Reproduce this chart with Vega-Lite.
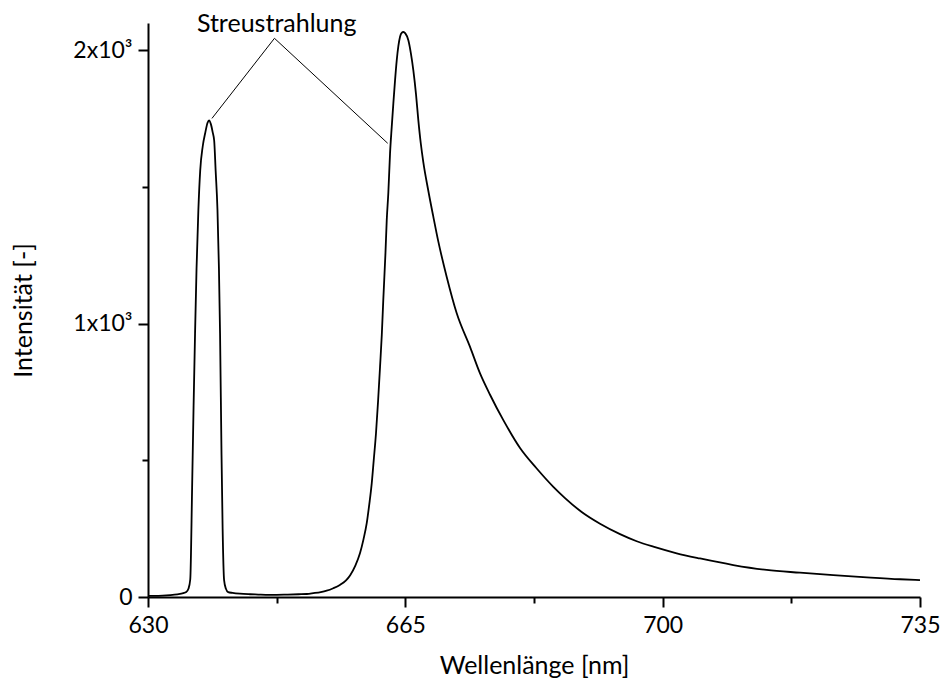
{
  "$schema": "https://vega.github.io/schema/vega-lite/v6.json",
  "width": 772,
  "height": 574,
  "autosize": {"type": "none"},
  "padding": {"left": 148, "top": 23, "right": 20, "bottom": 94},
  "background": "white",
  "config": {
    "view": {"stroke": null},
    "font": "Lato"
  },
  "datasets": {
    "spectrum": [
      {"wl": 630, "I": 4}, {"wl": 631, "I": 4}, {"wl": 632, "I": 5}, {"wl": 633, "I": 7},
      {"wl": 634, "I": 10}, {"wl": 634.8, "I": 14}, {"wl": 635.2, "I": 18}, {"wl": 635.5, "I": 30},
      {"wl": 635.75, "I": 65}, {"wl": 636.0, "I": 400}, {"wl": 636.2, "I": 700}, {"wl": 636.4, "I": 965},
      {"wl": 636.6, "I": 1200}, {"wl": 636.85, "I": 1415}, {"wl": 637.1, "I": 1560}, {"wl": 637.45, "I": 1650},
      {"wl": 637.8, "I": 1700}, {"wl": 638.1, "I": 1735}, {"wl": 638.3, "I": 1744}, {"wl": 638.55, "I": 1730},
      {"wl": 638.8, "I": 1700}, {"wl": 639.0, "I": 1670}, {"wl": 639.2, "I": 1560}, {"wl": 639.45, "I": 1415},
      {"wl": 639.65, "I": 1200}, {"wl": 639.8, "I": 965}, {"wl": 640.0, "I": 520}, {"wl": 640.15, "I": 250},
      {"wl": 640.35, "I": 62}, {"wl": 640.6, "I": 30}, {"wl": 640.9, "I": 18}, {"wl": 641.5, "I": 15},
      {"wl": 642.5, "I": 12}, {"wl": 643.9, "I": 10}, {"wl": 645, "I": 9}, {"wl": 646, "I": 8},
      {"wl": 647.5, "I": 8}, {"wl": 649, "I": 9}, {"wl": 650.5, "I": 10}, {"wl": 651.6, "I": 11},
      {"wl": 652.5, "I": 14}, {"wl": 653.5, "I": 18}, {"wl": 654.3, "I": 23}, {"wl": 655.2, "I": 32},
      {"wl": 656.1, "I": 44}, {"wl": 656.9, "I": 60}, {"wl": 657.5, "I": 80}, {"wl": 658.2, "I": 115},
      {"wl": 658.84, "I": 161}, {"wl": 659.3, "I": 210}, {"wl": 659.75, "I": 270}, {"wl": 660.1, "I": 340},
      {"wl": 660.43, "I": 416}, {"wl": 660.7, "I": 500}, {"wl": 661.01, "I": 599}, {"wl": 661.3, "I": 720},
      {"wl": 661.56, "I": 842}, {"wl": 661.8, "I": 960}, {"wl": 662.0, "I": 1086}, {"wl": 662.3, "I": 1260},
      {"wl": 662.47, "I": 1378}, {"wl": 662.69, "I": 1480}, {"wl": 662.92, "I": 1623}, {"wl": 663.15, "I": 1720},
      {"wl": 663.37, "I": 1806}, {"wl": 663.6, "I": 1890}, {"wl": 663.83, "I": 1963}, {"wl": 664.05, "I": 2015},
      {"wl": 664.28, "I": 2050}, {"wl": 664.5, "I": 2064}, {"wl": 664.73, "I": 2067}, {"wl": 665.0, "I": 2062},
      {"wl": 665.41, "I": 2037}, {"wl": 665.75, "I": 1990}, {"wl": 666.09, "I": 1927}, {"wl": 666.45, "I": 1840},
      {"wl": 666.77, "I": 1744}, {"wl": 667.1, "I": 1660}, {"wl": 667.45, "I": 1590}, {"wl": 668.1, "I": 1490},
      {"wl": 668.78, "I": 1395}, {"wl": 669.49, "I": 1300}, {"wl": 670.63, "I": 1171}, {"wl": 671.99, "I": 1038},
      {"wl": 673.8, "I": 915}, {"wl": 675.16, "I": 818}, {"wl": 676.52, "I": 740}, {"wl": 678.33, "I": 647},
      {"wl": 680.6, "I": 545}, {"wl": 682.87, "I": 470}, {"wl": 685.13, "I": 403}, {"wl": 686.72, "I": 362},
      {"wl": 689.03, "I": 310}, {"wl": 691.48, "I": 268}, {"wl": 694.2, "I": 230}, {"wl": 696.47, "I": 204},
      {"wl": 698.73, "I": 184}, {"wl": 701.91, "I": 160}, {"wl": 705.08, "I": 141}, {"wl": 709.61, "I": 117},
      {"wl": 714.15, "I": 99}, {"wl": 718.68, "I": 89}, {"wl": 723.21, "I": 80}, {"wl": 727.76, "I": 72},
      {"wl": 732.29, "I": 65}, {"wl": 735.0, "I": 62}
    ],
    "leaders": [
      {"x": 647.2, "y": 2044, "x2": 638.7, "y2": 1751},
      {"x": 647.2, "y": 2044, "x2": 662.6, "y2": 1660}
    ],
    "label": [
      {"x": 647.5, "y": 2066, "text": "Streustrahlung"}
    ]
  },
  "layer": [
    {
      "data": {"name": "spectrum"},
      "mark": {"type": "line", "color": "black", "strokeWidth": 1.8, "interpolate": "monotone"},
      "encoding": {
        "x": {
          "field": "wl", "type": "quantitative",
          "scale": {"domain": [630, 735], "nice": false, "zero": false},
          "axis": {
            "title": "Wellenlänge [nm]",
            "titleFont": "Lato", "titleFontSize": 25, "titleFontWeight": "normal", "titleColor": "black",
            "titlePadding": 16,
            "values": [630, 647.5, 665, 682.5, 700, 717.5, 735],
            "labelExpr": "(datum.value - 630) % 35 === 0 ? datum.label : ''",
            "format": "d",
            "labelFont": "Lato", "labelFontSize": 23, "labelColor": "black", "labelPadding": 7,
            "labelFlush": false, "labelOverlap": false,
            "grid": false,
            "domainColor": "black", "domainWidth": 2,
            "tickColor": "black", "tickWidth": 2,
            "tickSize": {"condition": {"test": "(datum.value - 630) % 35 === 0", "value": 10}, "value": 6}
          }
        },
        "y": {
          "field": "I", "type": "quantitative",
          "scale": {"domain": [0, 2100], "nice": false},
          "axis": {
            "title": "Intensität [-]",
            "titleFont": "Lato", "titleFontSize": 25, "titleFontWeight": "normal", "titleColor": "black",
            "titlePadding": 36,
            "values": [0, 500, 1000, 1500, 2000],
            "labelExpr": "datum.value === 0 ? '0' : (datum.value % 1000 === 0 ? (datum.value / 1000) + 'x10³' : '')",
            "labelFont": "Lato", "labelFontSize": 23, "labelColor": "black", "labelPadding": 6,
            "labelOverlap": false,
            "grid": false,
            "domainColor": "black", "domainWidth": 2,
            "tickColor": "black", "tickWidth": 2,
            "tickSize": {"condition": {"test": "datum.value % 1000 === 0", "value": 10}, "value": 6}
          }
        }
      }
    },
    {
      "data": {"name": "leaders"},
      "mark": {"type": "rule", "color": "black", "strokeWidth": 1},
      "encoding": {
        "x": {"field": "x", "type": "quantitative"},
        "y": {"field": "y", "type": "quantitative"},
        "x2": {"field": "x2"},
        "y2": {"field": "y2"}
      }
    },
    {
      "data": {"name": "label"},
      "mark": {"type": "text", "font": "Lato", "fontSize": 25, "color": "black", "align": "center", "baseline": "alphabetic"},
      "encoding": {
        "x": {"field": "x", "type": "quantitative"},
        "y": {"field": "y", "type": "quantitative"},
        "text": {"field": "text"}
      }
    }
  ]
}
